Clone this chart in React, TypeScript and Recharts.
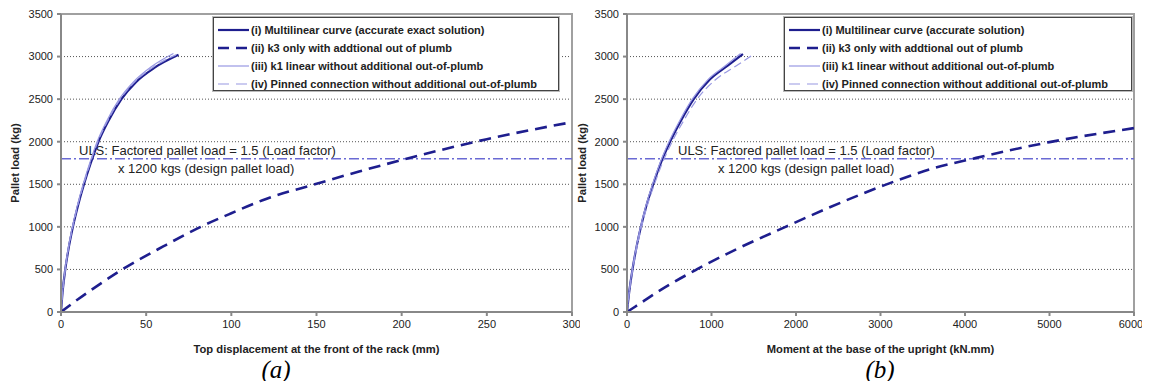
import React from "react";
import {
  LineChart,
  Line,
  XAxis,
  YAxis,
  CartesianGrid,
  ReferenceLine,
  ReferenceArea,
  Label,
} from "recharts";

type Pt = { x: number; y: number };

// (a) top displacement (mm) vs pallet load (kg)
const dispMultilinear: Pt[] = [
  { x: 0, y: 0 }, { x: 1, y: 250 }, { x: 2.5, y: 500 }, { x: 4.5, y: 750 },
  { x: 7, y: 1000 }, { x: 10, y: 1250 }, { x: 13.5, y: 1500 }, { x: 17.5, y: 1750 },
  { x: 22, y: 2000 }, { x: 28, y: 2250 }, { x: 35.5, y: 2500 }, { x: 44, y: 2700 },
  { x: 55, y: 2870 }, { x: 69, y: 3020 },
];
const dispK3: Pt[] = [
  { x: 0, y: 0 }, { x: 10, y: 150 }, { x: 20, y: 290 }, { x: 36, y: 500 },
  { x: 60, y: 770 }, { x: 82, y: 1000 }, { x: 100, y: 1160 }, { x: 120, y: 1325 },
  { x: 149, y: 1500 }, { x: 175, y: 1650 }, { x: 201, y: 1790 }, { x: 250, y: 2030 },
  { x: 300, y: 2230 },
];
const dispK1: Pt[] = [
  { x: 0, y: 0 }, { x: 1, y: 250 }, { x: 2.4, y: 500 }, { x: 4.3, y: 750 },
  { x: 6.7, y: 1000 }, { x: 9.6, y: 1250 }, { x: 13, y: 1500 }, { x: 16.9, y: 1750 },
  { x: 21.2, y: 2000 }, { x: 27, y: 2250 }, { x: 34.2, y: 2500 }, { x: 42.4, y: 2700 },
  { x: 53, y: 2880 }, { x: 66, y: 3035 },
];
const dispPinned: Pt[] = [
  { x: 0, y: 0 }, { x: 1, y: 250 }, { x: 2.5, y: 500 }, { x: 4.4, y: 750 },
  { x: 6.9, y: 1000 }, { x: 9.8, y: 1250 }, { x: 13.3, y: 1500 }, { x: 17.2, y: 1750 },
  { x: 21.6, y: 2000 }, { x: 27.5, y: 2250 }, { x: 34.8, y: 2500 }, { x: 43.2, y: 2700 },
  { x: 54, y: 2875 }, { x: 67.5, y: 3020 },
];

// (b) base moment (kN.mm) vs pallet load (kg)
const momMultilinear: Pt[] = [
  { x: 0, y: 0 }, { x: 28, y: 250 }, { x: 65, y: 500 }, { x: 110, y: 750 },
  { x: 165, y: 1000 }, { x: 230, y: 1250 }, { x: 310, y: 1500 }, { x: 400, y: 1750 },
  { x: 510, y: 2000 }, { x: 640, y: 2250 }, { x: 790, y: 2500 }, { x: 980, y: 2730 },
  { x: 1200, y: 2900 }, { x: 1373, y: 3030 },
];
const momK3: Pt[] = [
  { x: 0, y: 0 }, { x: 200, y: 130 }, { x: 400, y: 260 }, { x: 825, y: 500 },
  { x: 1300, y: 740 }, { x: 1876, y: 1000 }, { x: 2400, y: 1230 }, { x: 3048, y: 1490 },
  { x: 3600, y: 1680 }, { x: 4133, y: 1810 }, { x: 5000, y: 1995 }, { x: 6000, y: 2160 },
];
const momK1: Pt[] = [
  { x: 0, y: 0 }, { x: 27, y: 250 }, { x: 63, y: 500 }, { x: 107, y: 750 },
  { x: 160, y: 1000 }, { x: 224, y: 1250 }, { x: 302, y: 1500 }, { x: 390, y: 1750 },
  { x: 497, y: 2000 }, { x: 625, y: 2250 }, { x: 772, y: 2500 }, { x: 958, y: 2730 },
  { x: 1175, y: 2900 }, { x: 1345, y: 3035 },
];
const momPinned: Pt[] = [
  { x: 0, y: 0 }, { x: 29, y: 250 }, { x: 68, y: 500 }, { x: 115, y: 750 },
  { x: 172, y: 1000 }, { x: 240, y: 1250 }, { x: 324, y: 1500 }, { x: 418, y: 1750 },
  { x: 534, y: 2000 }, { x: 672, y: 2250 }, { x: 830, y: 2500 }, { x: 1050, y: 2730 },
  { x: 1290, y: 2890 }, { x: 1490, y: 3020 },
];

const loadTicks = [0, 500, 1000, 1500, 2000, 2500, 3000, 3500];
const dispTicks = [0, 50, 100, 150, 200, 250, 300];
const momTicks = [0, 1000, 2000, 3000, 4000, 5000, 6000];
const ulsLoad = 1800;

const legendA = [
  "(i) Multilinear curve (accurate exact solution)",
  "(ii) k3 only with addtional out of plumb",
  "(iii) k1 linear without additional out-of-plumb",
  "(iv) Pinned connection without additional out-of-plumb",
];
const legendB = [
  "(i) Multilinear curve (accurate solution)",
  "(ii) k3 only with addtional out of plumb",
  "(iii) k1 linear without additional out-of-plumb",
  "(iv) Pinned connection without additional out-of-plumb",
];

const DARK = "#1e1e8e";
const LIGHT = "#9898e2";
const FONT = "'Liberation Sans', Arial, sans-serif";

const seriesStyles = [
  { stroke: DARK, width: 2.2, dash: undefined as string | undefined },
  { stroke: DARK, width: 2.6, dash: "12 7" },
  { stroke: LIGHT, width: 1.2, dash: undefined },
  { stroke: LIGHT, width: 1.2, dash: "8 4" },
];

function ChartLegend({ labels, left, top, width }: { labels: string[]; left: number; top: number; width: number }) {
  return (
    <div
      style={{
        position: "absolute",
        left,
        top,
        width,
        height: 74,
        boxSizing: "border-box",
        border: "1px solid #444",
        outline: "1px solid #bbb",
        background: "#fff",
        fontFamily: FONT,
        fontSize: 11,
        fontWeight: 700,
        color: "#222",
        padding: "3px 0 0 4px",
        whiteSpace: "nowrap",
      }}
    >
      {labels.map((t, i) => {
        const s = seriesStyles[i];
        return (
          <div key={t} style={{ height: 18, display: "flex", alignItems: "center" }}>
            <svg width={31} height={6} style={{ marginRight: 2, flexShrink: 0 }}>
              <line x1={0} y1={3} x2={31} y2={3} stroke={s.stroke} strokeWidth={s.width} strokeDasharray={s.dash ? "11 7" : undefined} />
            </svg>
            <span>{t}</span>
          </div>
        );
      })}
    </div>
  );
}

function UlsLabel({ viewBox, dx1, dx2 }: any) {
  const x = viewBox?.x ?? 0;
  const y = viewBox?.y ?? 0;
  return (
    <g fontFamily={FONT} fontSize={13} fill="#222">
      <text x={x + dx1} y={y - 4}>ULS: Factored pallet load = 1.5 (Load factor)</text>
      <text x={x + dx2} y={y + 14}>x 1200 kgs (design pallet load)</text>
    </g>
  );
}

function Panel({
  series,
  xMax,
  xTicks,
  xLabel,
  yAxisWidth,
  ylabelOffset,
  dx1,
  dx2,
  width,
}: {
  series: Pt[][];
  xMax: number;
  xTicks: number[];
  xLabel: string;
  yAxisWidth: number;
  ylabelOffset: number;
  dx1: number;
  dx2: number;
  width: number;
}) {
  const tick = { fontSize: 11, fill: "#222", fontFamily: FONT };
  const title = { fontSize: 11.2, fontWeight: 700, fill: "#222", fontFamily: FONT };
  return (
    <LineChart width={width} height={358} margin={{ top: 14, right: 8, left: 8, bottom: 0 }}>
      <CartesianGrid horizontal vertical={false} stroke="#555" strokeDasharray="1 2" />
      <ReferenceArea x1={0} x2={xMax} y1={0} y2={3500} fill="none" stroke="#a0a0a0" strokeWidth={2} />
      <XAxis
        type="number"
        dataKey="x"
        domain={[0, xMax]}
        ticks={xTicks}
        allowDataOverflow
        height={46}
        tick={tick}
        tickSize={4}
        tickMargin={4}
        stroke="#888"
        strokeWidth={2}
      >
        <Label value={xLabel} position="insideBottom" offset={5} style={title} />
      </XAxis>
      <YAxis
        type="number"
        dataKey="y"
        domain={[0, 3500]}
        ticks={loadTicks}
        width={yAxisWidth}
        tick={tick}
        tickSize={4}
        tickMargin={4}
        stroke="#888"
        strokeWidth={2}
      >
        <Label value="Pallet load (kg)" angle={-90} position="insideLeft" offset={ylabelOffset} style={{ ...title, textAnchor: "middle" }} />
      </YAxis>
      <ReferenceLine
        y={ulsLoad}
        stroke="#6a6ad4"
        strokeWidth={1.5}
        strokeDasharray="10 3 2 3"
        label={<UlsLabel dx1={dx1} dx2={dx2} />}
      />
      {series.map((d, i) => {
        const s = seriesStyles[i];
        return (
          <Line
            key={i}
            data={d}
            dataKey="y"
            type="monotone"
            stroke={s.stroke}
            strokeWidth={s.width}
            strokeDasharray={s.dash}
            dot={false}
            activeDot={false}
            isAnimationActive={false}
          />
        );
      })}
    </LineChart>
  );
}

export default function App() {
  const caption = {
    position: "absolute" as const,
    top: 358,
    lineHeight: "24px",
    fontFamily: "'Liberation Serif', 'Times New Roman', serif",
    fontStyle: "italic",
    fontSize: 25,
    color: "#000",
    transform: "translateX(-50%)",
  };
  return (
    <div style={{ position: "relative", width: 1156, height: 389, margin: -8, background: "#fff", overflow: "hidden" }}>
      <div style={{ position: "absolute", left: 0, top: 0 }}>
        <Panel
          series={[dispMultilinear, dispK3, dispK1, dispPinned]}
          xMax={300}
          xTicks={dispTicks}
          xLabel="Top displacement at the front of the rack (mm)"
          yAxisWidth={53}
          ylabelOffset={7}
          width={580}
          dx1={18}
          dx2={57}
        />
      </div>
      <div style={{ position: "absolute", left: 570, top: 0 }}>
        <Panel
          series={[momMultilinear, momK3, momK1, momPinned]}
          xMax={6000}
          xTicks={momTicks}
          xLabel="Moment at the base of the upright (kN.mm)"
          yAxisWidth={49}
          ylabelOffset={4}
          width={572}
          dx1={51}
          dx2={91}
        />
      </div>
      <ChartLegend labels={legendA} left={213} top={17} width={346} />
      <ChartLegend labels={legendB} left={784} top={17} width={348} />
      <div style={{ ...caption, left: 276 }}>(a)</div>
      <div style={{ ...caption, left: 880 }}>(b)</div>
    </div>
  );
}
